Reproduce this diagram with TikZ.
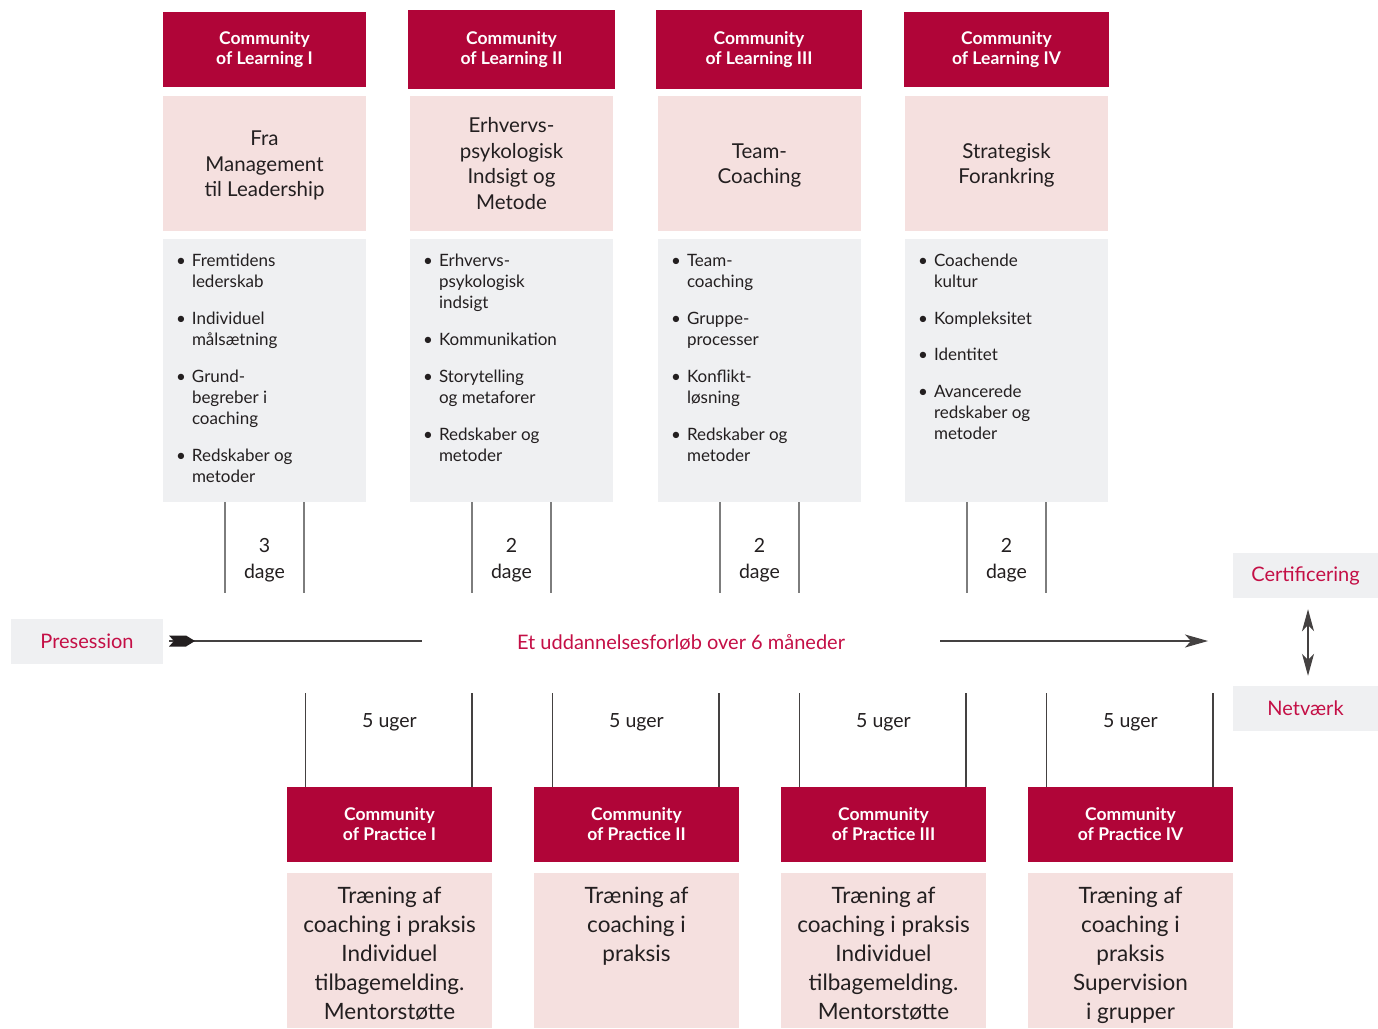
\documentclass[tikz,border=0pt]{standalone}
\usepackage{fontspec}
\setmainfont{Lato}
\usetikzlibrary{arrows.meta,calc}
\definecolor{hdr}{RGB}{176,5,56}
\definecolor{pinkbg}{RGB}{245,224,223}
\definecolor{graybg}{RGB}{239,240,242}
\definecolor{crim}{RGB}{196,15,70}
\definecolor{txt}{RGB}{35,31,32}
\definecolor{ln}{RGB}{125,125,125}
\newcommand{\blist}[1]{\begin{tabular}[t]{@{}p{16pt}@{}l@{}}#1\end{tabular}}
\newcommand{\ptitle}[1]{\raisebox{-2.5pt}[\height][\depth]{\begin{tabular}{@{}c@{}}#1\end{tabular}}}
\begin{document}
\begin{tikzpicture}[x=1pt,y=-1pt,
  hdrbox/.style={fill=hdr, text=white, inner sep=0, align=center,
    font=\bfseries\fontsize{17.5}{20}\selectfont, minimum height=75pt},
  pinkbox/.style={fill=pinkbg, text=txt, inner sep=0, align=center,
    font=\fontsize{20.5}{25.7}\selectfont, minimum width=203pt},
  graybox/.style={fill=graybg, inner sep=0, minimum width=203pt, minimum height=263pt},
  listtext/.style={anchor=base west, inner sep=0, text=txt, font=\fontsize{17}{21}\selectfont},
  sidebox/.style={fill=graybg, text=crim, inner sep=0, minimum height=45pt,
    font=\fontsize{20}{24}\selectfont},
  durtext/.style={text=txt, align=center, inner sep=0, font=\fontsize{19.5}{26}\selectfont},
  vl/.style={draw=ln, line width=1.1pt},
  tl/.style={draw=txt!85, line width=1.1pt},
  botpink/.style={fill=pinkbg, inner sep=0, minimum width=205pt, minimum height=155pt},
  bottext/.style={anchor=base, text=txt, inner sep=0, font=\fontsize{22.5}{29}\selectfont},
  tipA/.style={-{Stealth[length=23pt,width=13pt,inset=6pt]}},
]
\useasboundingbox (0,0) rectangle (1378,1028);

% ---------- top headers ----------
\node[hdrbox, minimum width=203pt] (h1) at (264.5,49.5) {Community\\of Learning I};
\node[hdrbox, minimum width=207pt, minimum height=79pt] (h2) at (511.5,49.5) {Community\\of Learning II};
\node[hdrbox, minimum width=206pt, minimum height=79pt] (h3) at (759,49.5) {Community\\of Learning III};
\node[hdrbox, minimum width=205pt] (h4) at (1006.5,49.5) {Community\\of Learning IV};

% ---------- pink titles ----------
\node[pinkbox, minimum height=135pt] (p1) at (264.5,163.5) {\ptitle{Fra\\Management\\til Leadership}};
\node[pinkbox, minimum height=135pt] (p2) at (511.5,163.5) {\ptitle{Erhvervs-\\psykologisk\\Indsigt og\\Metode}};
\node[pinkbox, minimum height=135pt] (p3) at (759.5,163.5) {\ptitle{Team-\\Coaching}};
\node[pinkbox, minimum height=135pt] (p4) at (1006.5,163.5) {\ptitle{Strategisk\\Forankring}};

% ---------- gray lists ----------
\node[graybox] (g1) at (264.5,370.5) {};
\node[graybox] (g2) at (511.5,370.5) {};
\node[graybox] (g3) at (759.5,370.5) {};
\node[graybox] (g4) at (1006.5,370.5) {};

\node[listtext] (g1t) at ($(g1.north west)+(13,27.5)$) {\blist{%
\textbullet & Fremtidens\\ & lederskab\\[16pt]
\textbullet & Individuel\\ & målsætning\\[16pt]
\textbullet & Grund-\\ & begreber i\\ & coaching\\[16pt]
\textbullet & Redskaber og\\ & metoder}};
\node[listtext] (g2t) at ($(g2.north west)+(13,27.5)$) {\blist{%
\textbullet & Erhvervs-\\ & psykologisk\\ & indsigt\\[16pt]
\textbullet & Kommunikation\\[16pt]
\textbullet & Storytelling\\ & og metaforer\\[16pt]
\textbullet & Redskaber og\\ & metoder}};
\node[listtext] (g3t) at ($(g3.north west)+(13,27.5)$) {\blist{%
\textbullet & Team-\\ & coaching\\[16pt]
\textbullet & Gruppe-\\ & processer\\[16pt]
\textbullet & Konflikt-\\ & løsning\\[16pt]
\textbullet & Redskaber og\\ & metoder}};
\node[listtext] (g4t) at ($(g4.north west)+(13,27.5)$) {\blist{%
\textbullet & Coachende\\ & kultur\\[16pt]
\textbullet & Kompleksitet\\[15pt]
\textbullet & Identitet\\[16pt]
\textbullet & Avancerede\\ & redskaber og\\ & metoder}};

% ---------- duration lines (top) ----------
\foreach \g in {g1,g2,g3,g4}{
  \draw[vl] ([xshift=-39.5pt]\g.south) -- ++(0,91);
  \draw[vl] ([xshift=39.5pt]\g.south) -- ++(0,91);
}
\node[durtext] (d1) at ($(g1.south)+(0,58.5)$) {3\\dage};
\node[durtext] (d2) at ($(g2.south)+(0,58.5)$) {2\\dage};
\node[durtext] (d3) at ($(g3.south)+(0,58.5)$) {2\\dage};
\node[durtext] (d4) at ($(g4.south)+(0,58.5)$) {2\\dage};

% ---------- side boxes ----------
\node[sidebox, minimum width=152pt] (pres) at (87,641.5) {Presession};
\node[sidebox, minimum width=145pt] (cert) at (1305.5,575.5) {Certificering};
\node[sidebox, minimum width=145pt] (net) at (1305.5,708.5) {Netværk};

% ---------- timeline ----------
\coordinate (tail) at (169,641);
\coordinate (l1) at (422,641);
\coordinate (r1) at (940,641);
\coordinate (tip) at (1208,641);
\node[text=crim, inner sep=0, font=\fontsize{20}{24}\selectfont] (mid) at (681,642) {Et uddannelsesforløb over 6 måneder};
\draw[tl] (tail) -- (l1);
\draw[tl, tipA] (r1) -- (tip);
\fill[txt] (tail) ++(0,-5.5) -- ++(17,0) -- ++(9,5.5) -- ++(-9,5.5) -- ++(-17,0) -- ++(5,-5.5) -- cycle;
\draw[tl, {Stealth[length=22pt,width=12pt,inset=6pt]}-{Stealth[length=22pt,width=12pt,inset=6pt]}, shorten <=11pt, shorten >=10pt] (cert.south -| 1308,0) -- (net.north -| 1308,0);

% ---------- bottom ----------
\node[hdrbox, minimum width=205pt] (b1) at (389.5,824.5) {Community\\of Practice I};
\node[hdrbox, minimum width=205pt] (b2) at (636.5,824.5) {Community\\of Practice II};
\node[hdrbox, minimum width=205pt] (b3) at (883.5,824.5) {Community\\of Practice III};
\node[hdrbox, minimum width=205pt] (b4) at (1130.5,824.5) {Community\\of Practice IV};

\node[botpink] (q1) at (389.5,950.5) {};
\node[botpink] (q2) at (636.5,950.5) {};
\node[botpink] (q3) at (883.5,950.5) {};
\node[botpink] (q4) at (1130.5,950.5) {};

\node[bottext] (q1t) at ($(q1.north)+(0,31)$) {\begin{tabular}[t]{@{}c@{}}Træning af\\coaching i praksis\\Individuel\\tilbagemelding.\\Mentorstøtte\end{tabular}};
\node[bottext] (q2t) at ($(q2.north)+(0,31)$) {\begin{tabular}[t]{@{}c@{}}Træning af\\coaching i\\praksis\end{tabular}};
\node[bottext] (q3t) at ($(q3.north)+(0,31)$) {\begin{tabular}[t]{@{}c@{}}Træning af\\coaching i praksis\\Individuel\\tilbagemelding.\\Mentorstøtte\end{tabular}};
\node[bottext] (q4t) at ($(q4.north)+(0,31)$) {\begin{tabular}[t]{@{}c@{}}Træning af\\coaching i\\praksis\\Supervision\\i grupper\end{tabular}};

\foreach \b in {b1,b2,b3,b4}{
  \draw[tl] ([xshift=-84pt]\b.north) -- ++(0,-94);
  \draw[tl] ([xshift=82.5pt]\b.north) -- ++(0,-94);
}
\node[durtext] (w1) at ($(b1.north)+(0,-64.5)$) {5 uger};
\node[durtext] (w2) at ($(b2.north)+(0,-64.5)$) {5 uger};
\node[durtext] (w3) at ($(b3.north)+(0,-64.5)$) {5 uger};
\node[durtext] (w4) at ($(b4.north)+(0,-64.5)$) {5 uger};
\end{tikzpicture}
\end{document}
